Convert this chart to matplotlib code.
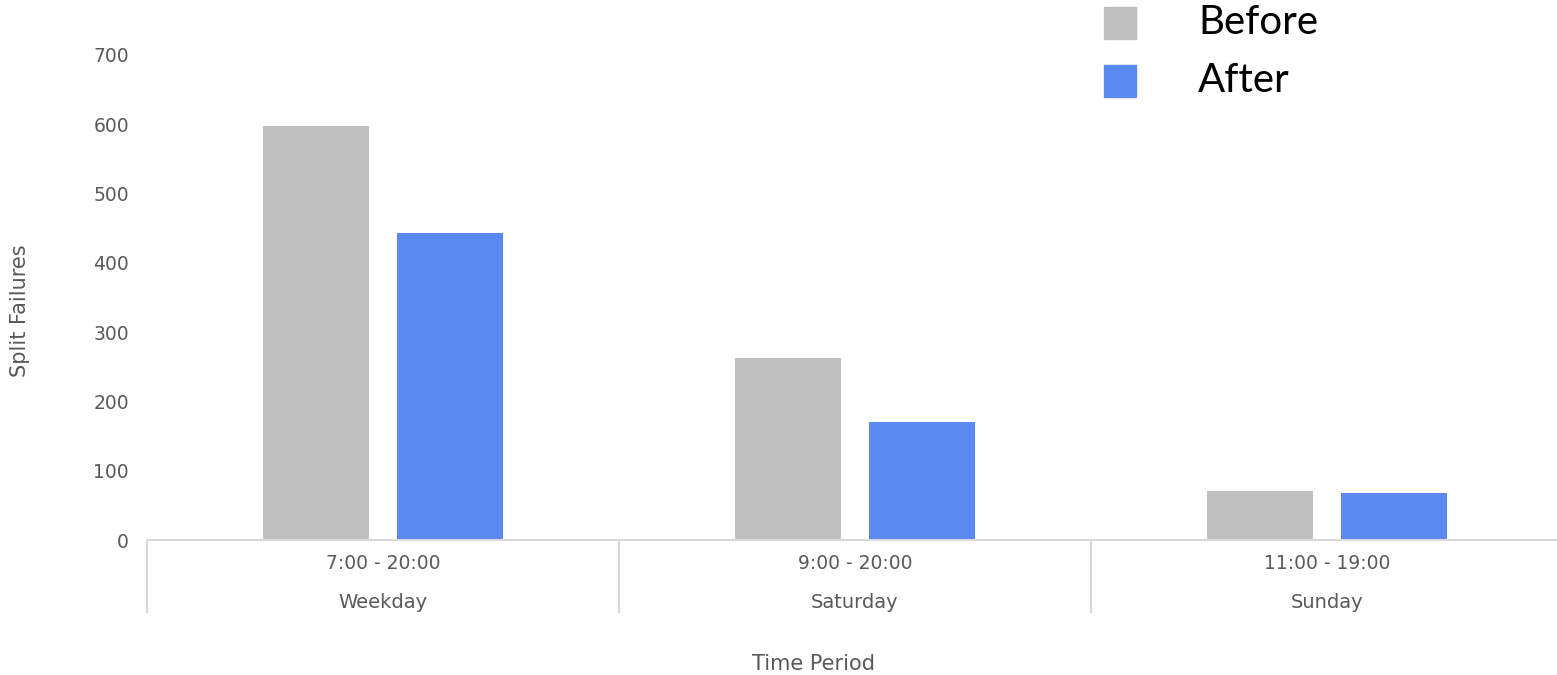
import matplotlib
matplotlib.use("Agg")
import matplotlib.pyplot as plt
import matplotlib.transforms as mtransforms
from matplotlib.patches import Rectangle
import numpy as np

# Data
time_ranges = ["7:00 - 20:00", "9:00 - 20:00", "11:00 - 19:00"]
day_types = ["Weekday", "Saturday", "Sunday"]
before = [598, 263, 71]
after = [443, 170, 68]
series_names = ["Before", "After"]

c_before = "#bfbfbf"
c_after = "#5b89f2"
tick_col = "#595959"
line_col = "#d9d9d9"
font = "DejaVu Sans"

W, H = 1557, 675
fig = plt.figure(figsize=(W / 100, H / 100), dpi=100)
ax = fig.add_axes([147 / W, 1 - 540 / H, 1416 / W, 485 / H])

x = np.arange(len(time_ranges))
bw = 106 / 472
off = 67 / 472
ax.bar(x - off, before, width=bw, color=c_before, zorder=2)
ax.bar(x + off, after, width=bw, color=c_after, zorder=2)

ax.set_xlim(-0.5, len(x) - 0.5)
ax.set_ylim(0, 700)
ax.set_yticks(np.arange(0, 701, 100))
ax.tick_params(axis="y", length=0, pad=13, labelsize=13.5, labelcolor=tick_col)
for t in ax.get_yticklabels():
    t.set_fontfamily(font)
ax.set_xticks(x)
ax.set_xticklabels(time_ranges, fontsize=13.5, color=tick_col, fontfamily=font)
ax.tick_params(axis="x", length=0, pad=10)

for s in ["top", "right", "left"]:
    ax.spines[s].set_visible(False)
ax.spines["bottom"].set_color(line_col)
ax.spines["bottom"].set_linewidth(1.5)

trans = mtransforms.blended_transform_factory(ax.transData, ax.transAxes)
for b in np.arange(-0.5, len(x) - 0.4, 1.0):
    ax.plot([b, b], [0, -72 / 485], transform=trans, color=line_col, lw=1.5, clip_on=False)
for xi, d in zip(x, day_types):
    ax.text(xi, -62 / 485, d, transform=trans, ha="center", va="center",
            fontsize=14, color=tick_col, fontfamily=font)

fig.text(814 / W, 1 - 664 / H, "Time Period", ha="center", va="center",
         fontsize=15, color=tick_col, fontfamily=font)
fig.text(20 / W, 1 - 311 / H, "Split Failures", ha="center", va="center",
         rotation=90, fontsize=15, color=tick_col, fontfamily=font)

# Legend
for i, (name, col) in enumerate(zip(series_names, [c_before, c_after])):
    yc = 23 + 58 * i
    fig.patches.append(Rectangle((1104 / W, 1 - (yc + 16) / H), 32 / W, 32 / H,
                                 transform=fig.transFigure, color=col))
    fig.text(1198 / W, 1 - yc / H, name, ha="left", va="center",
             fontsize=29, color="black", fontfamily="Lato")

fig.savefig("out.png", dpi=100)
